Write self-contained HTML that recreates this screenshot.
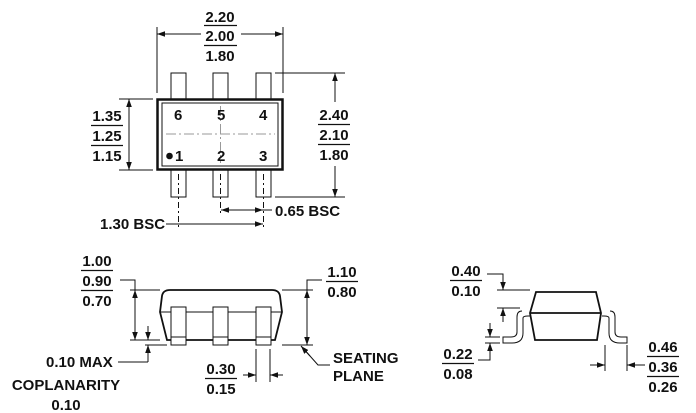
<!DOCTYPE html>
<html><head><style>
html,body{margin:0;padding:0;background:#fff;}
svg{display:block;}
text{font-family:"Liberation Sans",Arial,sans-serif;font-weight:bold;font-size:15px;fill:#111;}
</style></head><body>
<svg width="696" height="413" viewBox="0 0 696 413" xmlns="http://www.w3.org/2000/svg">
<defs>
<marker id="a" viewBox="0 0 10 10" refX="10" refY="5" markerWidth="8" markerHeight="8" orient="auto-start-reverse" markerUnits="userSpaceOnUse"><path d="M0,1.5 L10,5 L0,8.5 Z" fill="#111"/></marker>
</defs>
<g stroke="#111" stroke-width="1" fill="none">
<rect x="171" y="73" width="15" height="26" fill="#fff"/>
<rect x="213" y="73" width="15" height="26" fill="#fff"/>
<rect x="256" y="73" width="15" height="26" fill="#fff"/>
<rect x="171" y="170" width="15" height="27" fill="#fff"/>
<rect x="213" y="170" width="15" height="27" fill="#fff"/>
<rect x="256" y="170" width="15" height="27" fill="#fff"/>
<rect x="157.5" y="99.5" width="125" height="70" stroke-width="2.5" fill="#fff"/>
<rect x="162" y="103" width="116" height="63"/>
<line x1="166" y1="134" x2="275" y2="134" stroke="#999" stroke-dasharray="10,3,2,3"/>
<line x1="220.5" y1="106" x2="220.5" y2="163" stroke="#999" stroke-dasharray="10,3,2,3"/>
<line x1="178.5" y1="174" x2="178.5" y2="230" stroke-dasharray="6,3,2,3"/>
<line x1="220.5" y1="174" x2="220.5" y2="215" stroke-dasharray="6,3,2,3"/>
<line x1="263.5" y1="174" x2="263.5" y2="230" stroke-dasharray="6,3,2,3"/>
<line x1="157" y1="27" x2="157" y2="93"/><line x1="283" y1="27" x2="283" y2="93"/>
<line x1="157" y1="34" x2="201" y2="34" marker-start="url(#a)"/>
<line x1="241" y1="34" x2="283" y2="34" marker-end="url(#a)"/>
<line x1="204" y1="25.5" x2="237" y2="25.5" stroke-width="1.3"/>
<line x1="204" y1="45.5" x2="237" y2="45.5" stroke-width="1.3"/>
<line x1="119" y1="99" x2="153" y2="99"/><line x1="119" y1="170" x2="153" y2="170"/>
<line x1="129" y1="99" x2="129" y2="170" marker-start="url(#a)" marker-end="url(#a)"/>
<line x1="91" y1="125.5" x2="123" y2="125.5" stroke-width="1.3"/>
<line x1="91" y1="145.5" x2="123" y2="145.5" stroke-width="1.3"/>
<line x1="275" y1="73" x2="345" y2="73"/><line x1="275" y1="197" x2="345" y2="197"/>
<line x1="335" y1="73" x2="335" y2="102" marker-start="url(#a)"/>
<line x1="335" y1="166" x2="335" y2="197" marker-end="url(#a)"/>
<line x1="318" y1="124.5" x2="350" y2="124.5" stroke-width="1.3"/>
<line x1="318" y1="144.5" x2="350" y2="144.5" stroke-width="1.3"/>
<line x1="221" y1="210" x2="263" y2="210" marker-start="url(#a)" marker-end="url(#a)"/>
<line x1="263" y1="210" x2="272" y2="210"/>
<line x1="166" y1="224" x2="263" y2="224" marker-end="url(#a)"/>

<path d="M167,340 L160,312 L162,296 Q163,290 170,290 L272,290 Q279,290 280,296 L282,312 L275,340 Z" stroke-width="1.8" fill="#fff"/>
<line x1="161" y1="312" x2="281" y2="312"/>
<rect x="171" y="307" width="15" height="38" fill="#fff"/>
<rect x="213" y="307" width="15" height="38" fill="#fff"/>
<rect x="256" y="307" width="15" height="38" fill="#fff"/>
<line x1="171" y1="337" x2="186" y2="337"/><line x1="213" y1="337" x2="228" y2="337"/><line x1="256" y1="337" x2="271" y2="337"/>
<line x1="130" y1="290" x2="160" y2="290"/><line x1="130" y1="340" x2="160" y2="340"/>
<polyline points="120,280 135,280 135,290"/>
<line x1="135" y1="290" x2="135" y2="340" marker-start="url(#a)" marker-end="url(#a)"/>
<line x1="81" y1="270.5" x2="113" y2="270.5" stroke-width="1.3"/>
<line x1="81" y1="290.5" x2="113" y2="290.5" stroke-width="1.3"/>
<line x1="145" y1="345" x2="167" y2="345"/>
<line x1="148" y1="326" x2="148" y2="340" marker-end="url(#a)"/>
<line x1="118" y1="362" x2="148" y2="362"/>
<line x1="148" y1="362" x2="148" y2="345" marker-end="url(#a)"/>
<line x1="282" y1="290" x2="313" y2="290"/><line x1="282" y1="345" x2="313" y2="345"/>
<polyline points="322,280 307,280 307,290"/>
<line x1="307" y1="290" x2="307" y2="345" marker-start="url(#a)" marker-end="url(#a)"/>
<line x1="326" y1="281.5" x2="358" y2="281.5" stroke-width="1.3"/>
<polyline points="330,365 318,365 302,347" />
<line x1="310" y1="356" x2="301" y2="346" marker-end="url(#a)"/>
<line x1="256" y1="349" x2="256" y2="382"/><line x1="270" y1="349" x2="270" y2="382"/>
<line x1="243" y1="375" x2="256" y2="375" marker-end="url(#a)"/>
<line x1="283" y1="375" x2="270" y2="375" marker-end="url(#a)"/>
<line x1="205" y1="378.5" x2="237" y2="378.5" stroke-width="1.3"/>

<path d="M522,311 Q517,311 517,317 L517,332 Q517,337 511,337 L503,337 L503,343 L512,343 Q523,343 523,333 L523,318 Q523,316 528,316 L530,316" fill="#fff"/>
<path d="M610,311 Q615,311 615,317 L615,332 Q615,337 621,337 L627,337 L627,343 L620,343 Q609,343 609,333 L609,318 Q609,316 604,316 L602,316" fill="#fff"/>
<path d="M536,292 L596,292 L601,313 L597,340 L535,340 L530,313 Z" stroke-width="1.8" fill="#fff"/>
<line x1="530" y1="313" x2="601" y2="313" stroke-width="1.8"/>
<line x1="497" y1="290" x2="530" y2="290"/><line x1="497" y1="308" x2="520" y2="308"/>
<polyline points="487,274 503,274 503,290" marker-end="url(#a)"/>
<line x1="503" y1="322" x2="503" y2="308" marker-end="url(#a)"/>
<line x1="450" y1="280.5" x2="482" y2="280.5" stroke-width="1.3"/>
<line x1="485" y1="337" x2="500" y2="337"/><line x1="485" y1="343" x2="500" y2="343"/>
<line x1="490" y1="323" x2="490" y2="337" marker-end="url(#a)"/>
<polyline points="478,360 490,360 490,343" marker-end="url(#a)"/>
<line x1="442" y1="363.5" x2="474" y2="363.5" stroke-width="1.3"/>
<line x1="605" y1="345" x2="605" y2="371"/><line x1="627" y1="345" x2="627" y2="371"/>
<line x1="590" y1="365" x2="605" y2="365" marker-end="url(#a)"/>
<line x1="645" y1="365" x2="627" y2="365" marker-end="url(#a)"/>
<line x1="647" y1="356.5" x2="679" y2="356.5" stroke-width="1.3"/>
<line x1="647" y1="376.5" x2="679" y2="376.5" stroke-width="1.3"/>
</g>
<circle cx="169.5" cy="156" r="3.3" fill="#111"/>
<g text-anchor="middle">
<text x="220" y="22">2.20</text><text x="220" y="41">2.00</text><text x="220" y="61">1.80</text>
<text x="107" y="121">1.35</text><text x="107" y="141">1.25</text><text x="107" y="161">1.15</text>
<text x="334" y="120">2.40</text><text x="334" y="140">2.10</text><text x="334" y="160">1.80</text>
<text x="97" y="266">1.00</text><text x="97" y="286">0.90</text><text x="97" y="306">0.70</text>
<text x="342" y="277">1.10</text><text x="342" y="297">0.80</text>
<text x="221" y="374">0.30</text><text x="221" y="394">0.15</text>
<text x="66" y="390">COPLANARITY</text><text x="66" y="410">0.10</text>
<text x="466" y="276">0.40</text><text x="466" y="296">0.10</text>
<text x="458" y="359">0.22</text><text x="458" y="379">0.08</text>
<text x="663" y="352">0.46</text><text x="663" y="372">0.36</text><text x="663" y="392">0.26</text>
</g>
<g style="font-size:13px">
<text x="174" y="120">6</text><text x="217" y="120">5</text><text x="259" y="120">4</text>
<text x="175" y="161">1</text><text x="217" y="161">2</text><text x="259" y="161">3</text>
</g>
<text x="275" y="216">0.65 BSC</text>
<text x="100" y="229">1.30 BSC</text>
<text x="46" y="367">0.10 MAX</text>
<text x="333" y="363">SEATING</text>
<text x="333" y="381">PLANE</text>
</svg>
</body></html>
